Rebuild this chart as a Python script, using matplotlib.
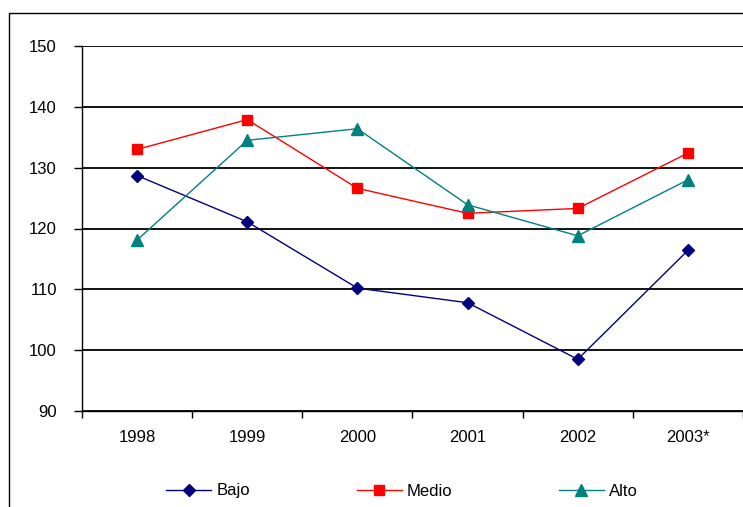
import matplotlib
matplotlib.use("Agg")
import matplotlib.pyplot as plt
from matplotlib.patches import Rectangle
import numpy as np

plt.rcParams['font.family'] = ['Liberation Sans', 'DejaVu Sans']

years = ["1998", "1999", "2000", "2001", "2002", "2003*"]
bajo = [128.7, 121.1, 110.2, 107.8, 98.5, 116.4]
medio = [133.0, 137.9, 126.6, 122.5, 123.3, 132.4]
alto = [118.1, 134.5, 136.4, 123.9, 118.8, 128.0]

W, H = 743, 507
fig = plt.figure(figsize=(W / 100, H / 100), dpi=100)

# outer chart frame
fig.patches.append(Rectangle((9 / W, -0.1), 1.2, 1 - 13 / H + 0.1,
                             transform=fig.transFigure, fill=False,
                             edgecolor='black', linewidth=1.0))

ax = fig.add_axes([82 / W, 1 - 411 / H, (743 - 82) / W, (411 - 46) / H])
x = np.arange(len(years))

ax.plot(x, bajo, color='#000080', marker='D', markersize=6, linewidth=1.0, label='Bajo')
ax.plot(x, medio, color='#FF0000', marker='s', markersize=7, linewidth=1.0, label='Medio')
ax.plot(x, alto, color='#008080', marker='^', markersize=8, linewidth=1.0, label='Alto')

ax.set_xlim(-0.5, len(years) - 0.5)
ax.set_ylim(90, 150)
ax.set_yticks(np.arange(90, 151, 10))
ax.yaxis.grid(True, color='black', linewidth=1.3)
ax.set_axisbelow(True)

ax.set_xticks(x)
ax.set_xticklabels(years)
ax.set_xticks(np.arange(-0.5, len(years)), minor=True)
ax.tick_params(axis='x', which='major', length=0, pad=14, labelsize=12)
ax.tick_params(axis='x', which='minor', length=5, width=1.0, direction='out')
ax.tick_params(axis='y', length=6, width=1.0, direction='out', pad=12, labelsize=12)

for side in ('top', 'right'):
    ax.spines[side].set_visible(False)
for side in ('left', 'bottom'):
    ax.spines[side].set_linewidth(1.0)
    ax.spines[side].set_color('black')

handles, labels = ax.get_legend_handles_labels()
leg = fig.legend(handles, labels, ncol=3, loc='center',
                 bbox_to_anchor=(402 / W, 1 - 491 / H), frameon=False,
                 fontsize=12, handlelength=2.7, handletextpad=0.3,
                 columnspacing=6.4, borderaxespad=0, borderpad=0)

fig.savefig('out.png', dpi=100)
